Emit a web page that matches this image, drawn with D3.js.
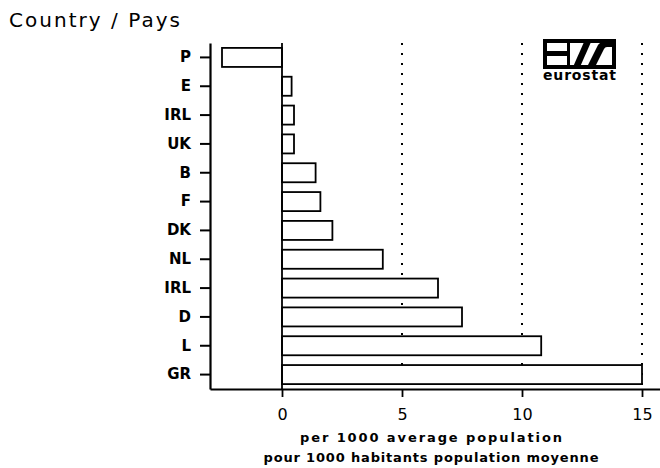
<!DOCTYPE html>
<html>
<head>
<meta charset="utf-8">
<script src="https://cdn.jsdelivr.net/npm/d3@7"></script>
<style>
  body { margin: 0; background: #fff; }
  svg { display: block; }
</style>
</head>
<body>
<svg id="chart"></svg>
<script>
// Country codes, top to bottom (IRL appears twice in the source)
let countries = ["P", "E", "IRL", "UK", "B", "F", "DK", "NL", "IRL", "D", "L", "GR"];
let rates = [-2.5, 0.4, 0.5, 0.5, 1.4, 1.6, 2.1, 4.2, 6.5, 7.5, 10.8, 15.0];
let xTicks = [0, 5, 10, 15];
let gridTicks = [5, 10, 15];
let xDomain = [-3, 15.75];
let yTitle = "Country / Pays";
let xTitle = ["per 1000 average population", "pour 1000 habitants population moyenne"];

let width = 660, height = 468;
let svg = d3.select("#chart")
  .attr("viewBox", [0, 0, width, height])
  .attr("width", width)
  .attr("height", height);

let x = d3.scaleLinear().domain(xDomain).range([210, 660]);
let y = d3.scaleBand().domain(d3.range(countries.length)).range([43, 389]).paddingInner(0.34).paddingOuter(0.17);

// Dotted grid lines.
svg.append("g").selectAll("line").data(gridTicks).join("line")
  .attr("x1", (d) => x(d)).attr("x2", (d) => x(d))
  .attr("y1", 43).attr("y2", 389)
  .attr("stroke", "#000")
  .attr("stroke-width", 2)
  .attr("stroke-dasharray", "2,8");

// Bars.
svg.append("g").selectAll("rect").data(rates).join("rect")
  .attr("x", (d) => x(Math.min(0, d)))
  .attr("width", (d) => Math.abs(x(d) - x(0)))
  .attr("y", (d, i) => y(i))
  .attr("height", y.bandwidth())
  .attr("fill", "#fff")
  .attr("stroke", "#000")
  .attr("stroke-width", 1.8);

// Zero line.
svg.append("line")
  .attr("x1", x(0)).attr("x2", x(0))
  .attr("y1", 43).attr("y2", 389)
  .attr("stroke", "#000").attr("stroke-width", 1.8);

// Y axis.
let yAxis = svg.append("g")
  .attr("transform", "translate(210,0)")
  .call(d3.axisLeft(y).tickSize(10).tickSizeOuter(0).tickPadding(9).tickFormat((i) => countries[i]));
yAxis.select(".domain").attr("stroke-width", 2.2);
yAxis.selectAll(".tick line").attr("stroke-width", 2);
yAxis.selectAll("text")
  .attr("font-family", "DejaVu Sans")
  .attr("font-weight", "bold")
  .attr("font-size", 15)
  .attr("fill", "#000");

// X axis.
let xAxis = svg.append("g")
  .attr("transform", "translate(0,389)")
  .call(d3.axisBottom(x).tickValues(xTicks).tickSize(8).tickSizeOuter(0).tickPadding(12).tickFormat(d3.format("d")));
xAxis.select(".domain").attr("stroke-width", 1.8);
xAxis.selectAll(".tick line").attr("stroke-width", 1.8);
xAxis.selectAll("text")
  .attr("font-family", "DejaVu Sans")
  .attr("font-size", 16)
  .attr("fill", "#000");

// Titles.
svg.append("text")
  .attr("x", 9).attr("y", 27)
  .attr("font-family", "DejaVu Sans")
  .attr("font-size", 20)
  .attr("textLength", 171)
  .attr("lengthAdjust", "spacing")
  .text(yTitle);

svg.selectAll(".xtitle").data(xTitle).join("text")
  .attr("class", "xtitle")
  .attr("x", 431)
  .attr("y", (d, i) => 442 + i * 20)
  .attr("text-anchor", "middle")
  .attr("font-family", "DejaVu Sans")
  .attr("font-weight", "bold")
  .attr("font-size", 13)
  .attr("textLength", (d, i) => i == 0 ? 262 : 335)
  .attr("lengthAdjust", "spacing")
  .text((d) => d);

// Eurostat logo.
let logo = svg.append("g").attr("transform", "translate(543,39)");
logo.append("rect")
  .attr("x", 2).attr("y", 2).attr("width", 69).attr("height", 26)
  .attr("fill", "#fff").attr("stroke", "#000").attr("stroke-width", 4);
logo.append("rect").attr("x", 3).attr("y", 12).attr("width", 21).attr("height", 5).attr("fill", "#000");
logo.append("rect").attr("x", 24).attr("y", 3).attr("width", 3).attr("height", 24).attr("fill", "#000");
logo.append("path").attr("d", "M30,28 L41,3 L48,3 L37,28 Z").attr("fill", "#000");
logo.append("path").attr("d", "M44,28 L55,6 Q57,3 61,3 L70,3 L70,8 L64,8 Q62,8 61,10 L52,28 Z").attr("fill", "#000");
logo.append("text")
  .attr("x", 0).attr("y", 41)
  .attr("font-family", "DejaVu Sans")
  .attr("font-weight", "bold")
  .attr("font-size", 14)
  .attr("textLength", 73)
  .attr("lengthAdjust", "spacing")
  .text("eurostat");
</script>
</body>
</html>
